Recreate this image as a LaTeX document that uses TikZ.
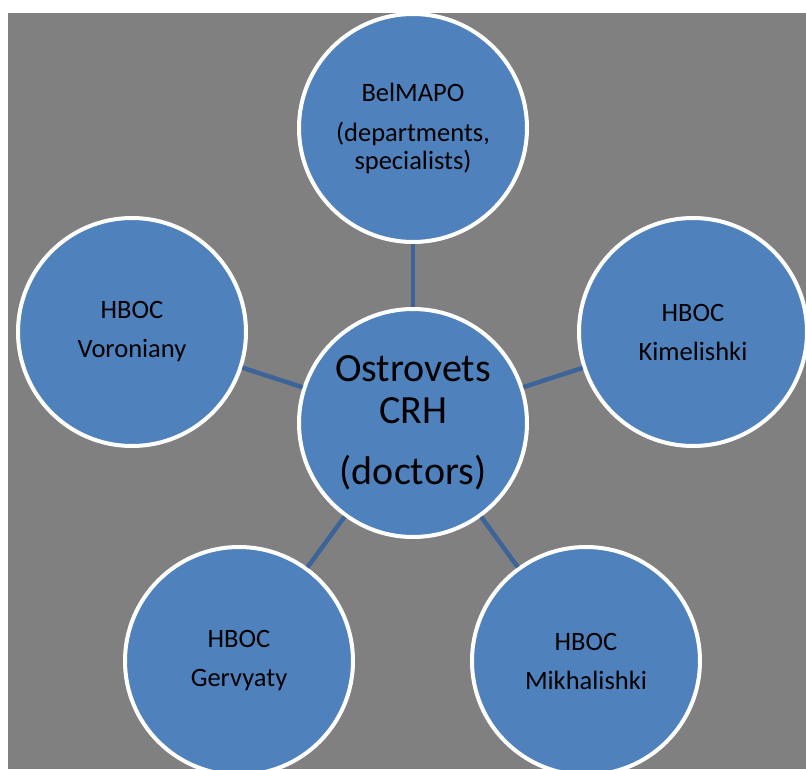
\documentclass[tikz,border=0pt]{standalone}
\usepackage{fontspec}
\setmainfont{Carlito}

\definecolor{bggray}{RGB}{128,128,128}
\definecolor{circblue}{RGB}{79,129,189}
\definecolor{linkblue}{RGB}{60,100,152}

\begin{document}
\begin{tikzpicture}
    [x=1pt, y=1pt,
     unit/.style={circle, draw=white, line width=4pt, fill=circblue,
                  minimum size=228pt, inner sep=0pt, align=center,
                  font=\fontsize{26.5}{28}\selectfont},
     hub/.style={unit, font=\fontsize{40}{42}\selectfont},
     link/.style={draw=linkblue, line width=4.5pt}]

    \useasboundingbox (-413, -346) rectangle (393, 423);
    \fill [bggray] (-405, -346) rectangle (393, 410);

    \node [hub] at (0, 0) (crh) {Ostrovets\\CRH\\[19pt](doctors)};

    \node [unit] at (0, 295) (belmapo) {BelMAPO\\[12pt](departments,\\specialists)};
    \node [unit] at (-281, 91) (voron) {HBOC\\[11pt]Voroniany};
    \node [unit] at (280, 91) (kimel) {HBOC\\[11pt]Kimelishki};
    \node [unit] at (-174, -238) (gerv) {HBOC\\[11pt]Gervyaty};
    \node [unit] at (173, -238) (mikh) {HBOC\\[11pt]Mikhalishki};

    \draw [link] (crh) -- (belmapo);
    \draw [link] (crh) -- (voron);
    \draw [link] (crh) -- (kimel);
    \draw [link] (crh) -- (gerv);
    \draw [link] (crh) -- (mikh);

  \end{tikzpicture}
\end{document}
